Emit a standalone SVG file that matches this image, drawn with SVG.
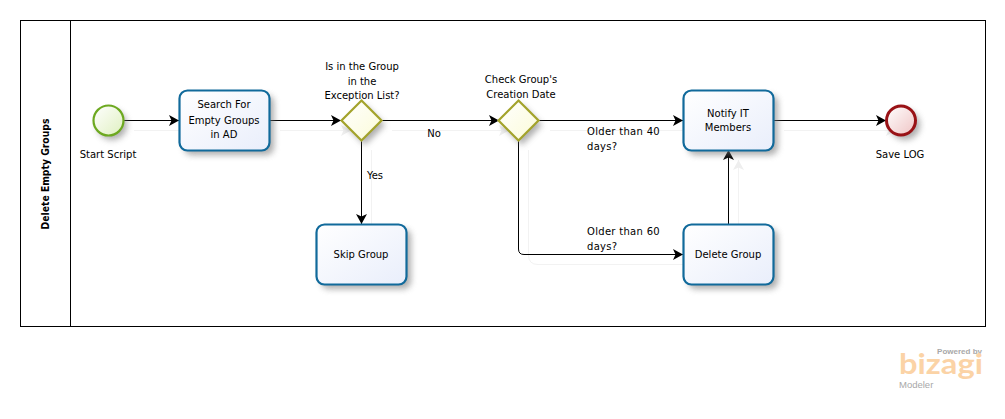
<svg xmlns="http://www.w3.org/2000/svg" width="1005" height="419" viewBox="0 0 1005 419">
<style>
text{font-family:"DejaVu Sans",Verdana,sans-serif;font-size:10px;fill:#000;text-anchor:middle}
.l{text-anchor:start;letter-spacing:.3px}
.task{fill:url(#gT);stroke:#116a9b;stroke-width:2.2}
.gw{fill:url(#gG);stroke:#a3a32b;stroke-width:2.2}
.c{fill:none;stroke:#000;stroke-width:1}
.cs{fill:none;stroke:#f2f2f2;stroke-width:1}
.sh{fill:#777;opacity:.6;filter:url(#b)}
</style>
<defs>
<linearGradient id="gT" x1="0" y1="0" x2="1" y2="1"><stop offset="0" stop-color="#fff"/><stop offset="1" stop-color="#e9eefb"/></linearGradient>
<linearGradient id="gG" x1="0" y1="0" x2="1" y2="1"><stop offset="0" stop-color="#fff"/><stop offset="1" stop-color="#fbfbd8"/></linearGradient>
<linearGradient id="gS" x1="0" y1="0" x2="1" y2="1"><stop offset="0" stop-color="#fff"/><stop offset="1" stop-color="#dff0c0"/></linearGradient>
<linearGradient id="gE" x1="0" y1="0" x2="1" y2="1"><stop offset="0" stop-color="#fff"/><stop offset="1" stop-color="#efc4c4"/></linearGradient>
<filter id="b" x="-30%" y="-30%" width="160%" height="160%"><feGaussianBlur stdDeviation="3"/></filter>
<marker id="a" markerUnits="userSpaceOnUse" markerWidth="11" markerHeight="12" refX="10" refY="6" orient="auto"><path d="M0 0.500L10 6L0 11.500L2.500 6Z" fill="#000"/></marker>
<marker id="as" markerUnits="userSpaceOnUse" markerWidth="11" markerHeight="12" refX="10" refY="6" orient="auto"><path d="M0 0.500L10 6L0 11.500L2.500 6Z" fill="#eee"/></marker>
</defs>
<rect width="1005" height="419" fill="#fff"/>
<g id="pool"><rect x="20.500" y="20.500" width="965" height="306" fill="#fff" stroke="#000"/><path d="M70.500 20.500V326.500" stroke="#000" fill="none"/>
<text transform="translate(49,174) rotate(-90)" style="font-family:'DejaVu Sans Condensed','DejaVu Sans',sans-serif;font-weight:bold;font-size:10.300px">Delete Empty Groups</text></g>
<g id="connector-shadows">
<path class="cs" marker-end="url(#as)" d="M134 130.500H189"/>
<path class="cs" marker-end="url(#as)" d="M280 130.500H351"/>
<path class="cs" marker-end="url(#as)" d="M392 130.500H509"/>
<path class="cs" marker-end="url(#as)" d="M550 130.500H693"/>
<path class="cs" marker-end="url(#as)" d="M784 130.500H896"/>
<path class="cs" marker-end="url(#as)" d="M371.500 150V234"/>
<path class="cs" marker-end="url(#as)" d="M528.500 150V255Q528.500 264.500 538 264.500H693"/>
<path class="cs" marker-end="url(#as)" d="M738.500 234V160"/>
</g>
<g id="connectors">
<path class="c" marker-end="url(#a)" d="M123 120.500H179"/>
<path class="c" marker-end="url(#a)" d="M269 120.500H341"/>
<path class="c" marker-end="url(#a)" d="M382 120.500H499"/>
<path class="c" marker-end="url(#a)" d="M539 120.500H683"/>
<path class="c" marker-end="url(#a)" d="M773 120.500H886"/>
<path class="c" marker-end="url(#a)" d="M361.500 141V224"/>
<path class="c" marker-end="url(#a)" d="M518.500 141V249Q518.500 254.500 524 254.500H683"/>
<path class="c" marker-end="url(#a)" d="M728.500 224V150"/>
<text x="434" y="137">No</text>
<text x="375" y="179">Yes</text>
<text class="l" x="587" y="135">Older than 40</text>
<text class="l" x="587" y="150">days?</text>
<text class="l" x="587" y="235">Older than 60</text>
<text class="l" x="587" y="250">days?</text>
</g>
<g id="start"><circle class="sh" cx="112" cy="125" r="15"/><circle cx="108.500" cy="120.500" r="15" fill="url(#gS)" stroke="#6da920" stroke-width="2.200"/><text x="108" y="158">Start Script</text></g>
<g id="search"><rect class="sh" x="184" y="95" width="90" height="60" rx="8"/><rect class="task" x="179.500" y="90.500" width="90" height="60" rx="8"/><text x="224" y="108">Search For</text><text x="224" y="124">Empty Groups</text><text x="224" y="138">in AD</text></g>
<g id="gw1"><path class="sh" d="M365 105L385 125L365 145L345 125Z"/><path class="gw" d="M361.500 100.500L381.500 120.500L361.500 140.500L341.500 120.500Z"/><text x="362" y="70">Is in the Group</text><text x="362" y="85">in the</text><text x="362" y="99">Exception List?</text></g>
<g id="gw2"><path class="sh" d="M522 105L542 125L522 145L502 125Z"/><path class="gw" d="M518.500 100.500L538.500 120.500L518.500 140.500L498.500 120.500Z"/><text x="521" y="83">Check Group's</text><text x="521" y="98">Creation Date</text></g>
<g id="notify"><rect class="sh" x="688" y="95" width="90" height="60" rx="8"/><rect class="task" x="683.500" y="90.500" width="90" height="60" rx="8"/><text x="728" y="117">Notify IT</text><text x="728" y="131">Members</text></g>
<g id="end"><circle class="sh" cx="905" cy="125" r="15"/><circle cx="901" cy="120.500" r="14.500" fill="url(#gE)" stroke="#991216" stroke-width="3"/><text x="900" y="158">Save LOG</text></g>
<g id="skip"><rect class="sh" x="321" y="229" width="90" height="60" rx="8"/><rect class="task" x="316.500" y="224.500" width="90" height="60" rx="8"/><text x="361" y="258">Skip Group</text></g>
<g id="delete"><rect class="sh" x="688" y="229" width="90" height="60" rx="8"/><rect class="task" x="683.500" y="224.500" width="90" height="60" rx="8"/><text x="728" y="258">Delete Group</text></g>
<g id="logo">
<text x="982" y="354" style="font-family:'Liberation Sans',sans-serif;font-size:8px;font-weight:bold;fill:#a8a8a8;text-anchor:end">Powered by</text>
<text x="899" y="374" textLength="84" lengthAdjust="spacingAndGlyphs" style="font-family:Lato,sans-serif;font-size:28px;font-weight:bold;fill:#fbd3a6;text-anchor:start">bizagi</text>
<text x="899" y="388" style="font-family:'Liberation Sans',sans-serif;font-size:9.500px;fill:#a8a8a8;text-anchor:start">Modeler</text>
</g>
</svg>
